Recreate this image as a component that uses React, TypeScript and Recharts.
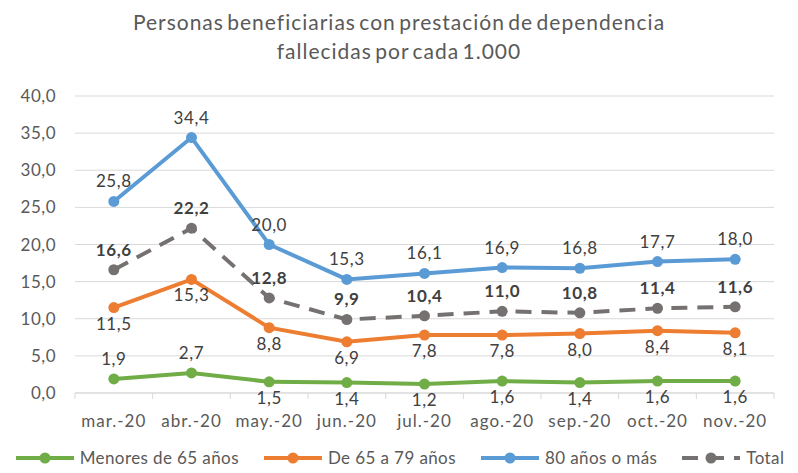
import { CartesianGrid, LabelList, Legend, Line, LineChart, XAxis, YAxis } from 'recharts';

const months = ['mar.-20', 'abr.-20', 'may.-20', 'jun.-20', 'jul.-20', 'ago.-20', 'sep.-20', 'oct.-20', 'nov.-20'];
const menores65 = [1.9, 2.7, 1.5, 1.4, 1.2, 1.6, 1.4, 1.6, 1.6];
const de65a79 = [11.5, 15.3, 8.8, 6.9, 7.8, 7.8, 8.0, 8.4, 8.1];
const mayores80 = [25.8, 34.4, 20.0, 15.3, 16.1, 16.9, 16.8, 17.7, 18.0];
const total = [16.6, 22.2, 12.8, 9.9, 10.4, 11.0, 10.8, 11.4, 11.6];
const yTicks = [0, 5, 10, 15, 20, 25, 30, 35, 40];

const data = months.map((m, i) => ({
  month: m,
  menores: menores65[i],
  medio: de65a79[i],
  mayores: mayores80[i],
  total: total[i],
}));

const FONT = 'Lato, "Open Sans", sans-serif';
const fmt = (v: number) => v.toFixed(1).replace('.', ',');

const series = [
  { key: 'menores', name: 'Menores de 65 años', color: '#70AD47' },
  { key: 'medio', name: 'De 65 a 79 años', color: '#ED7D31' },
  { key: 'mayores', name: '80 años o más', color: '#5B9BD5' },
  { key: 'total', name: 'Total', color: '#767171', dashed: true },
];

const makeLabel = (placement: (i: number) => 'top' | 'bottom', bold = false) => (props: any) => {
  const { x, y, value, index } = props;
  const pos = placement(index);
  return (
    <text
      x={x}
      y={pos === 'top' ? y - 14 : y + 22}
      textAnchor="middle"
      fontSize={17}
      fontFamily={FONT}
      fontWeight={bold ? 700 : 400}
      letterSpacing={0.6}
      fill="#404040"
    >
      {fmt(value)}
    </text>
  );
};

const BAND = (774 - 75) / months.length;

function MonthTick(props: any) {
  const { x, y, payload, index } = props;
  return (
    <g>
      <line x1={x - BAND / 2} x2={x - BAND / 2} y1={y - 8} y2={y - 2} stroke="#D9D9D9" />
      {index === months.length - 1 && (
        <line x1={x + BAND / 2} x2={x + BAND / 2} y1={y - 8} y2={y - 2} stroke="#D9D9D9" />
      )}
      <text x={x} y={y + 26} textAnchor="middle" fontSize={17} letterSpacing={1} fontFamily={FONT} fill="#595959">
        {payload.value}
      </text>
    </g>
  );
}

function ChartLegend() {
  return (
    <div
      style={{
        display: 'flex',
        justifyContent: 'center',
        gap: 23,
        fontFamily: FONT,
        fontSize: 17,
        letterSpacing: 0.4,
        lineHeight: '18px',
        height: 18,
        whiteSpace: 'nowrap',
        color: '#595959',
      }}
    >
      {series.map((s) => (
        <div key={s.key} style={{ display: 'flex', alignItems: 'center', gap: 4, flexShrink: 0 }}>
          <svg width={62} height={14}>
            <line x1={2} x2={60} y1={7} y2={7} stroke={s.color} strokeWidth={4} strokeDasharray={s.dashed ? '16 10' : undefined} />
            <circle cx={31} cy={7} r={5.5} fill={s.color} />
          </svg>
          <span>{s.name}</span>
        </div>
      ))}
    </div>
  );
}

export default function App() {
  return (
    <div style={{ position: 'relative', width: 798, height: 473, margin: -8, background: '#fff', overflow: 'hidden' }}>
      <div
        style={{
          position: 'absolute',
          top: 7,
          left: 0,
          width: 798,
          textAlign: 'center',
          fontFamily: FONT,
          fontSize: 21,
          letterSpacing: 1,
          wordSpacing: -3,
          lineHeight: '29px',
          color: '#595959',
        }}
      >
        Personas beneficiarias con prestación de dependencia
        <br />
        fallecidas por cada 1.000
      </div>
      <LineChart width={798} height={473} data={data} margin={{ top: 96, right: 24, bottom: 0, left: 0 }}>
        <CartesianGrid vertical={false} stroke="#D9D9D9" />
        <XAxis
          dataKey="month"
          stroke="#D9D9D9"
          tickLine={false}
          tick={<MonthTick />}
          height={62}
          interval={0}
          padding={{ left: BAND / 2, right: BAND / 2 }}
        />
        <YAxis
          domain={[0, 40]}
          ticks={yTicks}
          width={75}
          axisLine={false}
          tickLine={false}
          tickFormatter={fmt}
          tick={{ fontSize: 17, fontFamily: FONT, fill: '#595959', letterSpacing: 0.5 }}
          tickMargin={13}
        />
        <Legend
          verticalAlign="bottom"
          content={<ChartLegend />}
          wrapperStyle={{ bottom: 6, left: 0, width: 798, height: 18 }}
        />
        <Line dataKey="menores" name="Menores de 65 años" stroke="#70AD47" strokeWidth={4} dot={{ r: 5.5, fill: '#70AD47', strokeWidth: 0 }} isAnimationActive={false}>
          <LabelList dataKey="menores" content={makeLabel((i) => (i < 2 ? 'top' : 'bottom'))} />
        </Line>
        <Line dataKey="medio" name="De 65 a 79 años" stroke="#ED7D31" strokeWidth={4} dot={{ r: 5.5, fill: '#ED7D31', strokeWidth: 0 }} isAnimationActive={false}>
          <LabelList dataKey="medio" content={makeLabel(() => 'bottom')} />
        </Line>
        <Line dataKey="mayores" name="80 años o más" stroke="#5B9BD5" strokeWidth={4} dot={{ r: 5.5, fill: '#5B9BD5', strokeWidth: 0 }} isAnimationActive={false}>
          <LabelList dataKey="mayores" content={makeLabel(() => 'top')} />
        </Line>
        <Line dataKey="total" name="Total" stroke="#767171" strokeWidth={4} strokeDasharray="16 10" dot={{ r: 5.5, fill: '#767171', strokeWidth: 0 }} isAnimationActive={false}>
          <LabelList dataKey="total" content={makeLabel(() => 'top', true)} />
        </Line>
      </LineChart>
    </div>
  );
}
